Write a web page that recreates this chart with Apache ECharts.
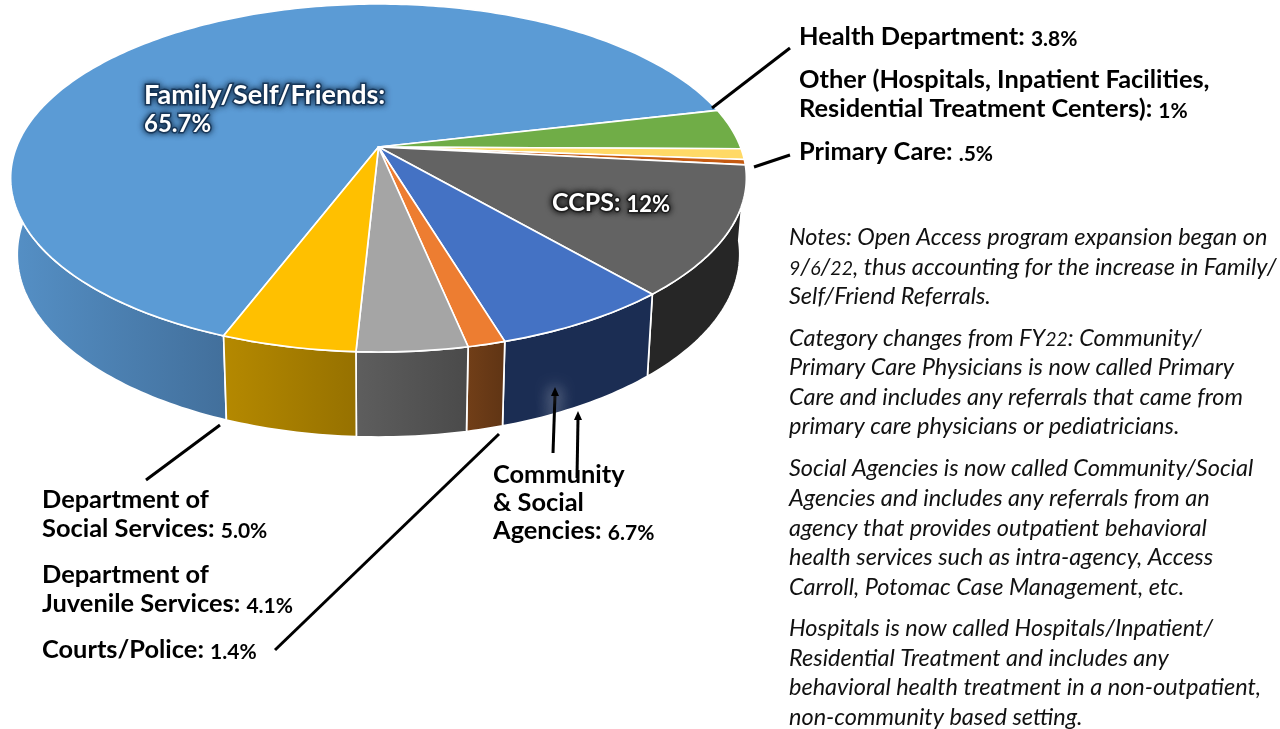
<!DOCTYPE html>
<html>
<head>
<meta charset="utf-8">
<title>Referral sources</title>
<script src="https://cdn.jsdelivr.net/npm/echarts@6/dist/echarts.min.js"></script>
<style>
html, body { margin: 0; padding: 0; background: #fff; }
#main { width: 1280px; height: 729px; }
</style>
</head>
<body>
<div id="main"></div>
<script>
// data, clockwise from the left edge of Family/Self/Friends
var categories = ['Family/Self/Friends', 'Health Department', 'Other', 'Primary Care', 'CCPS',
  'Community & Social Agencies', 'Courts/Police', 'Department of Juvenile Services', 'Department of Social Services'];
var values = [65.7, 3.8, 1, 0.5, 12, 6.7, 1.4, 4.1, 5.0];

var topColors = ['#5B9BD5', '#70AD47', '#FFD966', '#C55A11', '#636363', '#4472C4', '#ED7D31', '#A5A5A5', '#FFC000'];
var sideColors = [
  ['#5590C6', '#426F9B'], ['#4E7A31', '#4E7A31'], ['#262626', '#262626'], ['#262626', '#262626'],
  ['#262626', '#262626'], ['#1B2D53', '#1B2D53'], ['#723F18', '#5F3414'], ['#5E5E5E', '#4A4A4A'], ['#B58900', '#967100']
];

// text
var boldLines = ['Health Department: 3.8%', 'Other (Hospitals, Inpatient Facilities,', 'Residential Treatment Centers): 1%',
  'Primary Care: .5%', 'Department of', 'Social Services: 5.0%', 'Department of', 'Juvenile Services: 4.1%',
  'Courts/Police: 1.4%', 'Community', '& Social', 'Agencies: 6.7%'];
var boldPos = [[799, 37], [799, 80], [799, 109], [799, 152], [42, 500], [42, 529], [42, 575], [42, 604], [42, 650], [493, 475], [493, 503], [493, 531]];
var pieLines = ['Family/Self/Friends:', '65.7%', 'CCPS: 12%'];
var piePos = [[144, 95], [144, 124], [552, 203]];
var noteLines = [
  'Notes: Open Access program expansion began on',
  '9/6/22, thus accounting for the increase in Family/',
  'Self/Friend Referrals.',
  'Category changes from FY22: Community/',
  'Primary Care Physicians is now called Primary',
  'Care and includes any referrals that came from',
  'primary care physicians or pediatricians.',
  'Social Agencies is now called Community/Social',
  'Agencies and includes any referrals from an',
  'agency that provides outpatient behavioral',
  'health services such as intra-agency, Access',
  'Carroll, Potomac Case Management, etc.',
  'Hospitals is now called Hospitals/Inpatient/',
  'Residential Treatment and includes any',
  'behavioral health treatment in a non-outpatient,',
  'non-community based setting.'
];
var noteY = [237, 267, 296, 338, 367, 397, 426, 468, 498, 528, 557, 587, 628, 658, 687, 717];

// leader lines
var leaders = [
  [[712, 108], [790, 48]],
  [[754, 167], [790, 155]],
  [[146, 480], [220, 425]],
  [[275, 650], [499, 434]]
];

// pie geometry: tilted disc seen in perspective
var startDeg = 200.9;
var cx = 378.5, cy = 147, rx = 362, ry = 168.5, persp = 0.178;
var depth = 85, depthShrink = 0.05, xShrink = 0.982, frontY = 352;
var sideEndDeg = 285; // past this the wall is behind the top face

var total = values.reduce(function (a, b) { return a + b; }, 0);

function topPoint (deg) {
  var a = deg * Math.PI / 180;
  var u = Math.sin(a), v = -Math.cos(a);
  var w = 1 - persp * v;
  return [cx + rx * u / w, cy + ry * v / w];
}
function bottomPoint (deg) {
  var p = topPoint(deg);
  return [cx + (p[0] - cx) * xShrink, p[1] + depth - (frontY - p[1]) * depthShrink];
}
function sliceRange (index) {
  var before = 0;
  for (var i = 0; i < index; i++) before += values[i];
  var from = startDeg + before / total * 360;
  return [from, from + values[index] / total * 360];
}
function arcPoints (fn, from, to) {
  var pts = [], n = Math.max(2, Math.ceil(to - from));
  for (var i = 0; i <= n; i++) pts.push(fn(from + (to - from) * i / n));
  return pts;
}

function renderTop (params) {
  var r = sliceRange(params.dataIndex);
  var pts = [[cx, cy]].concat(arcPoints(topPoint, r[0], r[1]));
  return {
    type: 'polygon',
    shape: { points: pts },
    style: { fill: topColors[params.dataIndex], stroke: '#fff', lineWidth: 1.7, lineJoin: 'round' }
  };
}
function renderSide (params) {
  var r = sliceRange(params.dataIndex);
  var c = sideColors[params.dataIndex];
  var end = params.dataIndex === 0 ? sideEndDeg : r[1];
  var pts = arcPoints(topPoint, r[0], end).concat(arcPoints(bottomPoint, r[0], end).reverse());
  return {
    type: 'polygon',
    shape: { points: pts },
    style: {
      fill: { type: 'linear', x: 0, y: 0, x2: 1, y2: 0, colorStops: [{ offset: 0, color: c[0] }, { offset: 1, color: c[1] }] },
      stroke: '#fff', lineWidth: 1.7, lineJoin: 'round'
    }
  };
}

// the reference numerals are old-style, so they run small next to the letters
function richText (t) {
  return t.split(/(\.?\d[\d.]*%?)/).map(function (part, i) {
    if (!part) return '';
    return (i % 2 ? '{n|' : '{a|') + part + '}';
  }).join('');
}

var graphics = [];
boldLines.forEach(function (t, i) {
  graphics.push({
    type: 'text', z: 20, x: boldPos[i][0], y: boldPos[i][1],
    style: {
      text: richText(t), textAlign: 'left', textVerticalAlign: 'middle',
      rich: {
        a: { font: 'bold 25.4px Lato', fill: '#000', verticalAlign: 'bottom' },
        n: { font: 'bold 21px Lato', fill: '#000', verticalAlign: 'bottom' }
      }
    }
  });
});
pieLines.forEach(function (t, i) {
  var halo = {
    fill: '#fff', verticalAlign: 'bottom',
    textShadowColor: i < 2 ? '#0f2a48' : '#111', textShadowBlur: 6,
    stroke: i < 2 ? 'rgba(20,50,85,0.85)' : 'rgba(30,30,30,0.85)', lineWidth: 3
  };
  graphics.push({
    type: 'text', z: 20, x: piePos[i][0], y: piePos[i][1],
    style: {
      text: richText(t), textAlign: 'left', textVerticalAlign: 'middle',
      rich: {
        a: Object.assign({ font: 'bold ' + (i === 2 ? 25 : 27) + 'px Lato' }, halo),
        n: Object.assign({ font: 'bold ' + (i === 2 ? 22 : 24) + 'px Lato' }, halo)
      }
    }
  });
});
noteLines.forEach(function (t, i) {
  graphics.push({
    type: 'text', z: 20, x: 789, y: noteY[i],
    style: {
      text: richText(t), textAlign: 'left', textVerticalAlign: 'middle',
      rich: {
        a: { font: 'italic 23.5px Lato', fill: '#111', verticalAlign: 'bottom' },
        n: { font: 'italic 19.5px Lato', fill: '#111', verticalAlign: 'bottom' }
      }
    }
  });
});
leaders.forEach(function (l) {
  graphics.push({
    type: 'line', z: 15,
    shape: { x1: l[0][0], y1: l[0][1], x2: l[1][0], y2: l[1][1] },
    style: { stroke: '#000', lineWidth: 3 }
  });
});
// the two arrows under Community
var glow = 'rgba(255,255,255,0.95)';
graphics.push({
  type: 'line', z: 15, shape: { x1: 553, y1: 453, x2: 555, y2: 395 },
  style: { stroke: '#000', lineWidth: 3, shadowBlur: 16, shadowColor: glow }
});
graphics.push({
  type: 'polygon', z: 15, shape: { points: [[555, 387], [551, 396], [559, 396]] },
  style: { fill: '#000', shadowBlur: 16, shadowColor: glow }
});
graphics.push({
  type: 'line', z: 15, shape: { x1: 577, y1: 478, x2: 578, y2: 419 },
  style: { stroke: '#000', lineWidth: 3 }
});
graphics.push({
  type: 'polygon', z: 15, shape: { points: [[578, 411], [574, 420], [582, 420]] },
  style: { fill: '#000' }
});

var myChart = echarts.init(document.getElementById('main'));
myChart.setOption({
  animation: false,
  tooltip: { show: false },
  series: [
    { type: 'custom', name: 'side', coordinateSystem: 'none', z: 1, silent: true, renderItem: renderSide, data: values },
    { type: 'custom', name: 'top', coordinateSystem: 'none', z: 2, silent: true, renderItem: renderTop, data: values }
  ],
  graphic: graphics
});
</script>
</body>
</html>
